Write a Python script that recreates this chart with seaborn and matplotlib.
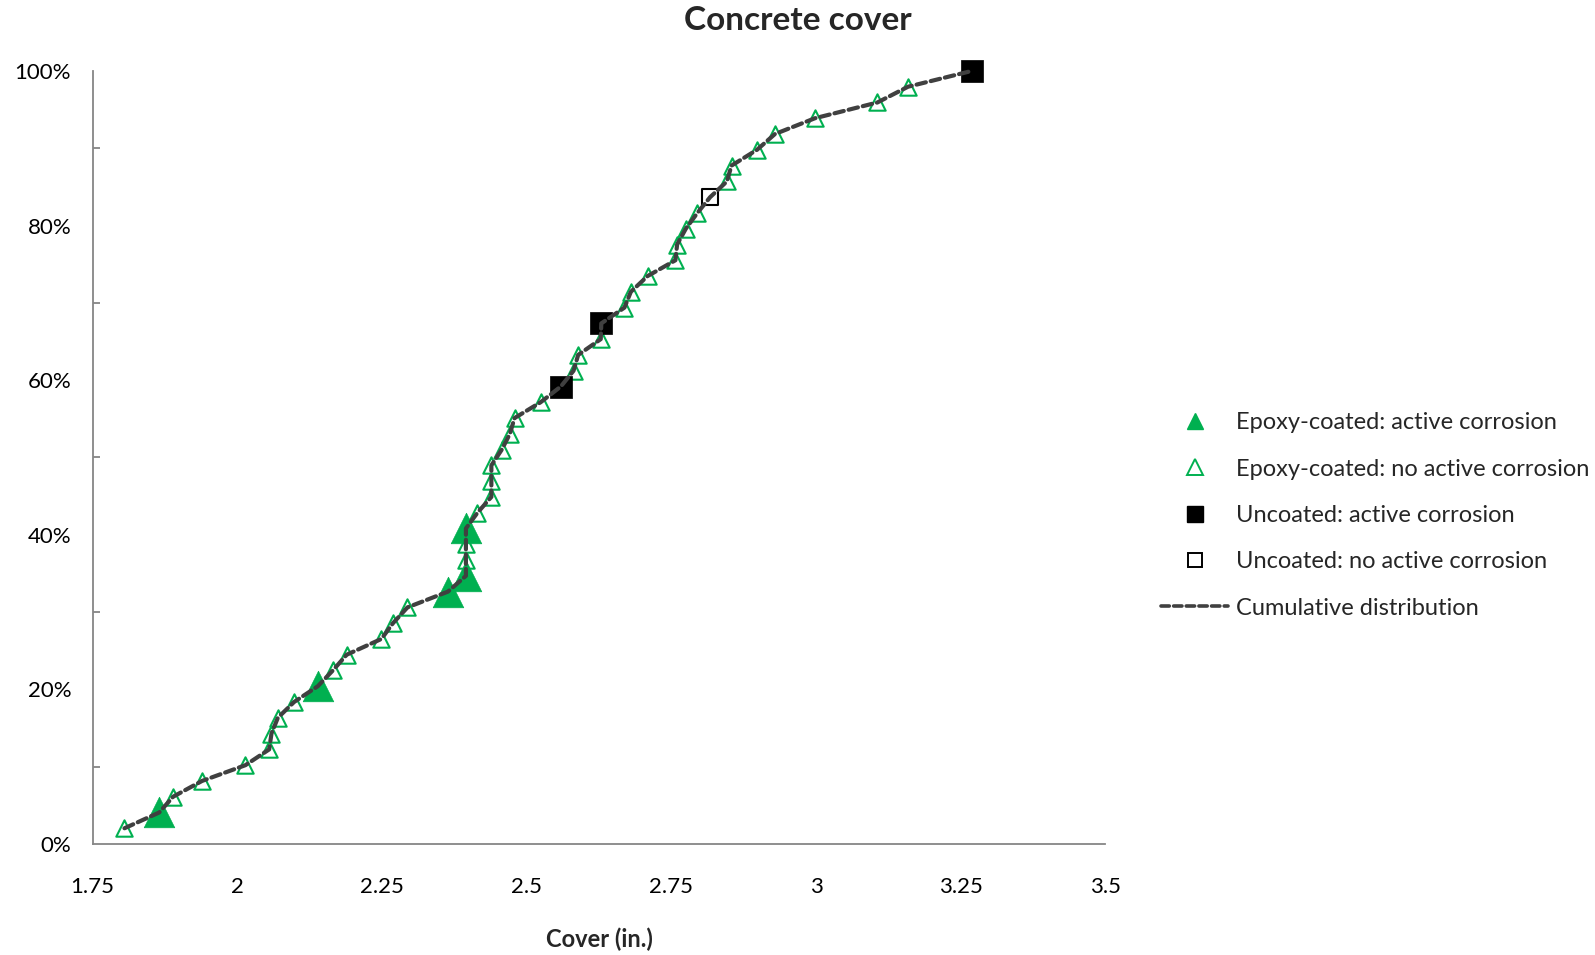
import matplotlib
matplotlib.use("Agg")
import matplotlib.pyplot as plt
from matplotlib.lines import Line2D
from matplotlib.ticker import PercentFormatter, MultipleLocator
import seaborn as sns
import pandas as pd

# ---- data ----
cover = [1.805, 1.865, 1.889, 1.939, 2.014, 2.055, 2.059, 2.070, 2.098, 2.139,
         2.165, 2.189, 2.249, 2.269, 2.294, 2.364, 2.395, 2.395, 2.395, 2.395,
         2.415, 2.439, 2.439, 2.439, 2.457, 2.471, 2.479, 2.524, 2.559, 2.581,
         2.589, 2.628, 2.629, 2.669, 2.680, 2.709, 2.757, 2.760, 2.775, 2.795,
         2.817, 2.846, 2.854, 2.898, 2.929, 2.998, 3.106, 3.159, 3.269]
cum_pct = [2.04, 4.08, 6.12, 8.16, 10.20, 12.24, 14.29, 16.33, 18.37, 20.41,
           22.45, 24.49, 26.53, 28.57, 30.61, 32.65, 34.69, 36.73, 38.78, 40.82,
           42.86, 44.90, 46.94, 48.98, 51.02, 53.06, 55.10, 57.14, 59.18, 61.22,
           63.27, 65.31, 67.35, 69.39, 71.43, 73.47, 75.51, 77.55, 79.59, 81.63,
           83.67, 85.71, 87.76, 89.80, 91.84, 93.88, 95.92, 97.96, 100.0]
group = ["EN", "EA", "EN", "EN", "EN", "EN", "EN", "EN", "EN", "EA",
         "EN", "EN", "EN", "EN", "EN", "EA", "EA", "EN", "EN", "EA",
         "EN", "EN", "EN", "EN", "EN", "EN", "EN", "EN", "UA", "EN",
         "EN", "EN", "UA", "EN", "EN", "EN", "EN", "EN", "EN", "EN",
         "UN", "EN", "EN", "EN", "EN", "EN", "EN", "EN", "UA"]
labels = {"EA": "Epoxy-coated: active corrosion",
          "EN": "Epoxy-coated: no active corrosion",
          "UA": "Uncoated: active corrosion",
          "UN": "Uncoated: no active corrosion"}
line_label = "Cumulative distribution"
title = "Concrete cover"
xlabel = "Cover (in.)"
xticks = [1.75, 2, 2.25, 2.5, 2.75, 3, 3.25, 3.5]
xtick_labels = ["1.75", "2", "2.25", "2.5", "2.75", "3", "3.25", "3.5"]

df = pd.DataFrame({"cover": cover, "cum": [p / 100 for p in cum_pct], "group": group})

GREEN = "#00B050"
AXGRAY = "#868686"
LINEC = "#404040"
DASH = (0, (2.3, 1.2))

sns.set_style("white")
plt.rcParams["font.family"] = ["Lato", "DejaVu Sans"]

fig = plt.figure(figsize=(15.95, 9.55), dpi=100)
ax = fig.add_axes([0.0581, 0.1162, 0.6349, 0.8095])

styles = {
    "EA": dict(marker="^", s=22**2, facecolors=GREEN, edgecolors=GREEN, linewidths=0.5),
    "EN": dict(marker="^", s=11.8**2, facecolors="white", edgecolors=GREEN, linewidths=1.5),
    "UA": dict(marker="s", s=16.5**2, facecolors="black", edgecolors="black", linewidths=0.5),
    "UN": dict(marker="s", s=11.5**2, facecolors="white", edgecolors="black", linewidths=1.5),
}
for g in ["EN", "EA", "UN", "UA"]:
    sub = df[df["group"] == g]
    sns.scatterplot(data=sub, x="cover", y="cum", ax=ax, legend=False, zorder=3,
                    clip_on=False, **styles[g])

sns.lineplot(data=df, x="cover", y="cum", ax=ax, sort=False, estimator=None,
             color=LINEC, lw=3.0, linestyle=DASH, dash_capstyle="round",
             zorder=4, legend=False, clip_on=False)

ax.set_xlim(1.75, 3.5)
ax.set_ylim(0, 1)
ax.set_xticks(xticks)
ax.set_xticklabels(xtick_labels)
ax.yaxis.set_major_locator(MultipleLocator(0.2))
ax.yaxis.set_minor_locator(MultipleLocator(0.1))
ax.yaxis.set_major_formatter(PercentFormatter(1.0, decimals=0))

for side in ["top", "right"]:
    ax.spines[side].set_visible(False)
for side in ["left", "bottom"]:
    ax.spines[side].set_color(AXGRAY)
    ax.spines[side].set_linewidth(1.3)

ax.tick_params(axis="x", which="major", direction="out", length=6, width=1.3,
               color=AXGRAY, labelsize=16, pad=18, labelcolor="black")
ax.tick_params(axis="y", which="major", direction="inout", length=11, width=1.3,
               color=AXGRAY, labelsize=16, pad=10, labelcolor="black")
ax.tick_params(axis="y", which="minor", direction="in", length=5, width=1.3,
               color=AXGRAY, left=True)
ax.set_xlabel(xlabel, fontsize=17, fontweight="bold", labelpad=22)
ax.set_ylabel("")

fig.text(0.5, 0.979, title, ha="center", va="center", fontsize=24, fontweight="bold")

handles = [
    Line2D([], [], marker="^", ls="none", ms=12, mfc=GREEN, mec=GREEN, label=labels["EA"]),
    Line2D([], [], marker="^", ls="none", ms=11, mfc="white", mec=GREEN, mew=1.4, label=labels["EN"]),
    Line2D([], [], marker="s", ls="none", ms=11.5, mfc="black", mec="black", label=labels["UA"]),
    Line2D([], [], marker="s", ls="none", ms=10.5, mfc="white", mec="black", mew=1.4, label=labels["UN"]),
    Line2D([], [], color=LINEC, lw=2.6, linestyle=DASH, dash_capstyle="round", label=line_label),
]
fig.legend(handles=handles, loc="upper left", bbox_to_anchor=(0.722, 0.578),
           frameon=False, fontsize=17, handlelength=2.84, handletextpad=0.34,
           labelspacing=1.07, borderaxespad=0)

fig.savefig("out.png", dpi=100)
